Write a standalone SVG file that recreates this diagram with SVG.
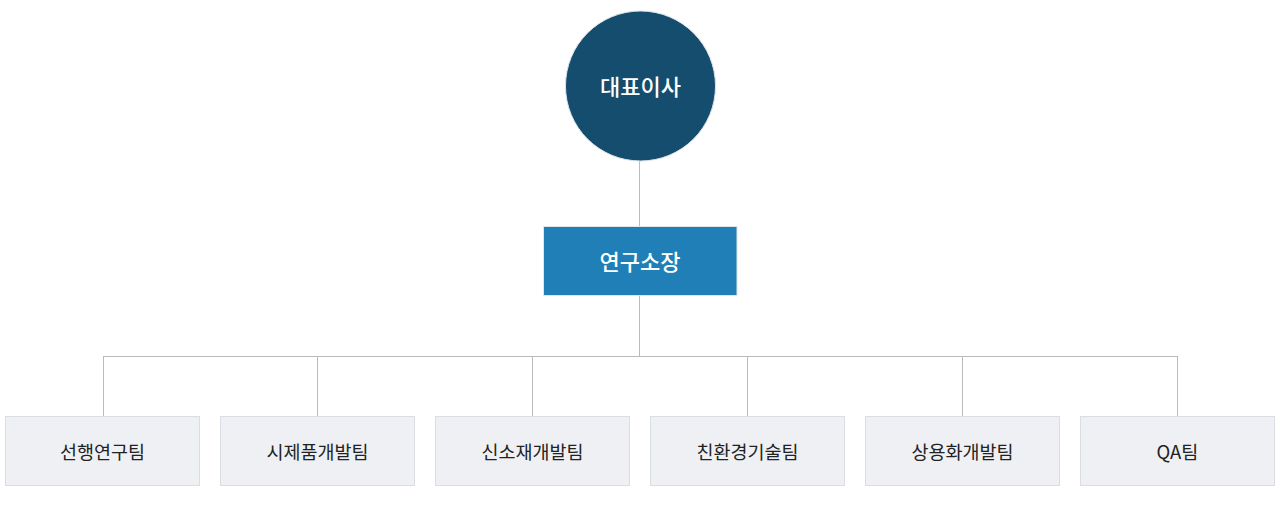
<svg xmlns="http://www.w3.org/2000/svg" width="1280" height="518" viewBox="0 0 1280 518">
<style>
.t{font-family:"Noto Sans CJK KR","Noto Sans",sans-serif;text-anchor:middle;dominant-baseline:central}
.w{fill:#ffffff;font-size:22px;font-weight:500}
.d{fill:#222222;font-size:18.5px}
.team{fill:#eef0f4;stroke:#dadde3;stroke-width:1}
.ln{stroke:#bbbbbb;stroke-width:1;fill:none}
</style>
<rect width="1280" height="518" fill="#ffffff"/>
<g id="connectors">
<path class="ln" d="M639.5 161V226M639.5 295V356.5M103.5 356.5H1177.5M103.5 356V416M317.5 356V416M532.5 356V416M747.5 356V416M962.5 356V416M1177.5 356V416"/>
</g>
<g id="ceo">
<circle cx="640.5" cy="86" r="75" fill="#144d6d" stroke="#dde3e8" stroke-width="1"/>
<text class="t w" x="640.5" y="85">대표이사</text>
</g>
<g id="director">
<rect x="543.5" y="226.5" width="193.5" height="69" fill="#1f7fb6" stroke="#dfe6ec" stroke-width="1"/>
<text class="t w" x="640" y="260">연구소장</text>
</g>
<g id="team1"><rect class="team" x="5.5" y="416.5" width="194" height="69"/><text class="t d" x="102.5" y="451">선행연구팀</text></g>
<g id="team2"><rect class="team" x="220.5" y="416.5" width="194" height="69"/><text class="t d" x="317.5" y="451">시제품개발팀</text></g>
<g id="team3"><rect class="team" x="435.5" y="416.5" width="194" height="69"/><text class="t d" x="532.5" y="451">신소재개발팀</text></g>
<g id="team4"><rect class="team" x="650.5" y="416.5" width="194" height="69"/><text class="t d" x="747.5" y="451">친환경기술팀</text></g>
<g id="team5"><rect class="team" x="865.5" y="416.5" width="194" height="69"/><text class="t d" x="962.5" y="451">상용화개발팀</text></g>
<g id="team6"><rect class="team" x="1080.5" y="416.5" width="194" height="69"/><text class="t d" x="1177.5" y="451">QA팀</text></g>
</svg>
